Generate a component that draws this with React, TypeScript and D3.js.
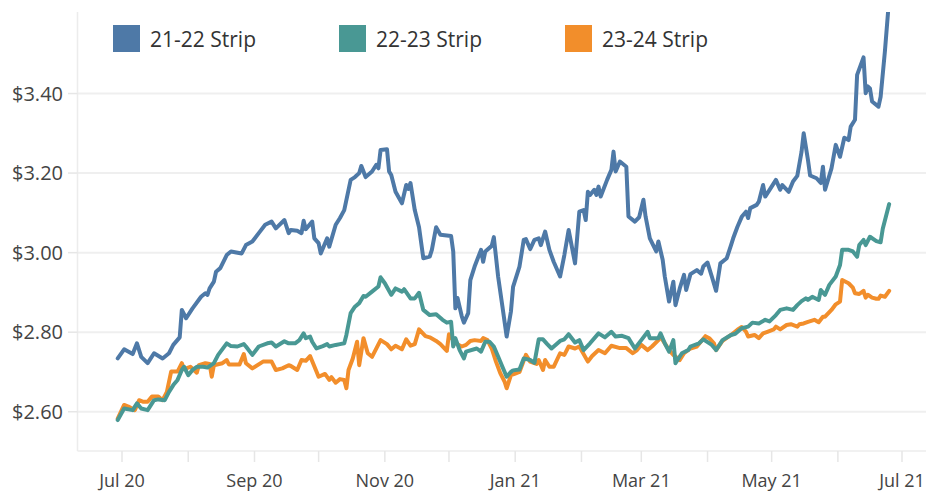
import React from "react";
import * as d3 from "d3";

const seriesNames = ["21-22 Strip", "22-23 Strip", "23-24 Strip"];
const seriesColors = ["#4e79a7", "#499894", "#f28e2b"];
const yTicks = [2.6, 2.8, 3.0, 3.2, 3.4];
const xTickLabels = ["2020-07-01", "2020-09-01", "2020-11-01", "2021-01-01", "2021-03-01", "2021-05-01", "2021-07-01"];

const strip2122: [string, number][] = [
["2020-06-29",2.734],["2020-07-02",2.757],["2020-07-06",2.745],["2020-07-08",2.772],["2020-07-10",2.738],["2020-07-13",2.722],["2020-07-16",2.747],["2020-07-20",2.734],["2020-07-23",2.747],["2020-07-25",2.768],["2020-07-28",2.787],["2020-07-29",2.856],["2020-07-31",2.835],["2020-08-03",2.860],["2020-08-07",2.889],["2020-08-09",2.898],["2020-08-10",2.894],["2020-08-11",2.910],["2020-08-13",2.927],["2020-08-14",2.952],["2020-08-16",2.961],["2020-08-19",2.994],["2020-08-21",3.003],["2020-08-26",2.998],["2020-08-28",3.019],["2020-08-31",3.028],["2020-09-03",3.049],["2020-09-06",3.070],["2020-09-09",3.078],["2020-09-11",3.061],["2020-09-15",3.082],["2020-09-17",3.049],["2020-09-18",3.057],["2020-09-21",3.055],["2020-09-23",3.049],["2020-09-24",3.080],["2020-09-25",3.059],["2020-09-28",3.078],["2020-09-29",3.036],["2020-10-01",3.024],["2020-10-02",2.998],["2020-10-05",3.036],["2020-10-06",3.015],["2020-10-09",3.070],["2020-10-11",3.087],["2020-10-13",3.107],["2020-10-16",3.183],["2020-10-18",3.190],["2020-10-20",3.200],["2020-10-21",3.218],["2020-10-23",3.190],["2020-10-26",3.204],["2020-10-28",3.221],["2020-10-29",3.212],["2020-10-30",3.258],["2020-11-02",3.260],["2020-11-03",3.204],["2020-11-04",3.195],["2020-11-06",3.153],["2020-11-09",3.124],["2020-11-11",3.170],["2020-11-12",3.160],["2020-11-13",3.175],["2020-11-15",3.107],["2020-11-17",3.064],["2020-11-19",2.986],["2020-11-22",2.990],["2020-11-23",3.007],["2020-11-25",3.064],["2020-11-27",3.045],["2020-12-02",3.042],["2020-12-03",3.003],["2020-12-04",2.860],["2020-12-05",2.886],["2020-12-07",2.840],["2020-12-08",2.824],["2020-12-10",2.848],["2020-12-11",2.931],["2020-12-13",2.965],["2020-12-16",3.007],["2020-12-17",2.977],["2020-12-18",3.003],["2020-12-21",3.017],["2020-12-22",3.039],["2020-12-24",2.940],["2020-12-26",2.865],["2020-12-28",2.789],["2020-12-30",2.852],["2020-12-31",2.914],["2021-01-03",2.965],["2021-01-05",3.032],["2021-01-06",3.034],["2021-01-08",3.009],["2021-01-10",3.032],["2021-01-12",3.036],["2021-01-13",3.019],["2021-01-15",3.053],["2021-01-17",3.007],["2021-01-19",2.977],["2021-01-22",2.940],["2021-01-24",2.994],["2021-01-26",3.057],["2021-01-29",2.973],["2021-01-31",3.103],["2021-02-02",3.107],["2021-02-03",3.082],["2021-02-04",3.153],["2021-02-05",3.145],["2021-02-07",3.158],["2021-02-08",3.145],["2021-02-09",3.166],["2021-02-10",3.141],["2021-02-13",3.183],["2021-02-15",3.208],["2021-02-16",3.254],["2021-02-17",3.204],["2021-02-19",3.229],["2021-02-22",3.216],["2021-02-23",3.091],["2021-02-26",3.078],["2021-02-28",3.089],["2021-03-02",3.133],["2021-03-03",3.091],["2021-03-05",3.036],["2021-03-08",3.003],["2021-03-09",3.028],["2021-03-11",2.982],["2021-03-12",2.940],["2021-03-14",2.877],["2021-03-16",2.927],["2021-03-17",2.868],["2021-03-19",2.910],["2021-03-21",2.944],["2021-03-22",2.906],["2021-03-24",2.946],["2021-03-27",2.956],["2021-03-29",2.947],["2021-03-30",2.965],["2021-04-01",2.975],["2021-04-03",2.940],["2021-04-05",2.904],["2021-04-07",2.973],["2021-04-10",2.986],["2021-04-12",3.019],["2021-04-13",3.036],["2021-04-15",3.065],["2021-04-17",3.090],["2021-04-19",3.103],["2021-04-20",3.087],["2021-04-21",3.112],["2021-04-24",3.120],["2021-04-25",3.128],["2021-04-27",3.170],["2021-04-28",3.141],["2021-05-01",3.166],["2021-05-03",3.183],["2021-05-05",3.158],["2021-05-06",3.170],["2021-05-09",3.153],["2021-05-11",3.179],["2021-05-13",3.193],["2021-05-15",3.254],["2021-05-16",3.300],["2021-05-18",3.233],["2021-05-19",3.194],["2021-05-22",3.187],["2021-05-24",3.175],["2021-05-25",3.216],["2021-05-26",3.158],["2021-05-29",3.212],["2021-05-31",3.271],["2021-06-02",3.241],["2021-06-04",3.289],["2021-06-06",3.283],["2021-06-07",3.317],["2021-06-09",3.334],["2021-06-10",3.447],["2021-06-13",3.491],["2021-06-14",3.401],["2021-06-15",3.418],["2021-06-16",3.413],["2021-06-17",3.380],["2021-06-20",3.367],["2021-06-21",3.392],["2021-06-23",3.506],["2021-06-25",3.640]
];

const strip2223: [string, number][] = [
["2020-06-29",2.579],["2020-07-02",2.608],["2020-07-06",2.604],["2020-07-08",2.621],["2020-07-10",2.608],["2020-07-13",2.604],["2020-07-16",2.629],["2020-07-18",2.631],["2020-07-21",2.629],["2020-07-23",2.650],["2020-07-25",2.667],["2020-07-27",2.680],["2020-07-29",2.705],["2020-07-30",2.713],["2020-08-01",2.692],["2020-08-03",2.705],["2020-08-05",2.713],["2020-08-08",2.713],["2020-08-10",2.711],["2020-08-13",2.722],["2020-08-15",2.743],["2020-08-19",2.772],["2020-08-21",2.765],["2020-08-24",2.764],["2020-08-27",2.770],["2020-08-28",2.764],["2020-08-31",2.743],["2020-09-03",2.764],["2020-09-07",2.772],["2020-09-09",2.774],["2020-09-11",2.764],["2020-09-15",2.777],["2020-09-17",2.772],["2020-09-20",2.772],["2020-09-22",2.780],["2020-09-24",2.797],["2020-09-25",2.785],["2020-09-27",2.789],["2020-09-28",2.776],["2020-09-30",2.759],["2020-10-03",2.765],["2020-10-05",2.770],["2020-10-06",2.764],["2020-10-09",2.768],["2020-10-11",2.770],["2020-10-13",2.772],["2020-10-14",2.793],["2020-10-16",2.848],["2020-10-18",2.864],["2020-10-20",2.873],["2020-10-22",2.891],["2020-10-23",2.889],["2020-10-26",2.902],["2020-10-29",2.915],["2020-10-30",2.938],["2020-11-01",2.923],["2020-11-04",2.894],["2020-11-06",2.910],["2020-11-09",2.902],["2020-11-10",2.908],["2020-11-13",2.885],["2020-11-15",2.885],["2020-11-17",2.899],["2020-11-19",2.856],["2020-11-22",2.843],["2020-11-25",2.845],["2020-11-28",2.831],["2020-11-30",2.824],["2020-12-02",2.826],["2020-12-03",2.764],["2020-12-04",2.785],["2020-12-06",2.755],["2020-12-08",2.734],["2020-12-09",2.751],["2020-12-14",2.759],["2020-12-16",2.751],["2020-12-18",2.776],["2020-12-20",2.776],["2020-12-22",2.764],["2020-12-24",2.739],["2020-12-26",2.713],["2020-12-28",2.688],["2020-12-30",2.700],["2020-12-31",2.704],["2021-01-03",2.706],["2021-01-05",2.734],["2021-01-08",2.730],["2021-01-10",2.723],["2021-01-12",2.782],["2021-01-14",2.782],["2021-01-16",2.770],["2021-01-18",2.759],["2021-01-22",2.778],["2021-01-24",2.782],["2021-01-26",2.795],["2021-01-29",2.774],["2021-01-31",2.780],["2021-02-02",2.755],["2021-02-05",2.772],["2021-02-09",2.797],["2021-02-12",2.787],["2021-02-15",2.801],["2021-02-17",2.789],["2021-02-20",2.791],["2021-02-23",2.785],["2021-02-26",2.759],["2021-03-01",2.780],["2021-03-04",2.801],["2021-03-05",2.785],["2021-03-09",2.785],["2021-03-10",2.797],["2021-03-12",2.772],["2021-03-14",2.751],["2021-03-16",2.780],["2021-03-17",2.722],["2021-03-20",2.747],["2021-03-23",2.755],["2021-03-24",2.764],["2021-03-28",2.772],["2021-03-30",2.782],["2021-04-03",2.768],["2021-04-05",2.755],["2021-04-08",2.780],["2021-04-12",2.793],["2021-04-14",2.796],["2021-04-17",2.810],["2021-04-20",2.814],["2021-04-22",2.824],["2021-04-25",2.822],["2021-04-28",2.831],["2021-04-30",2.827],["2021-05-03",2.843],["2021-05-05",2.856],["2021-05-08",2.860],["2021-05-11",2.856],["2021-05-13",2.868],["2021-05-15",2.878],["2021-05-17",2.885],["2021-05-18",2.881],["2021-05-20",2.889],["2021-05-23",2.881],["2021-05-24",2.906],["2021-05-26",2.894],["2021-05-28",2.919],["2021-05-31",2.940],["2021-06-02",2.969],["2021-06-03",3.007],["2021-06-06",3.007],["2021-06-08",3.003],["2021-06-10",2.990],["2021-06-11",3.019],["2021-06-13",3.032],["2021-06-14",3.019],["2021-06-16",3.040],["2021-06-19",3.029],["2021-06-21",3.026],["2021-06-22",3.060],["2021-06-25",3.122]
];

const strip2324: [string, number][] = [
["2020-06-29",2.583],["2020-07-02",2.617],["2020-07-04",2.613],["2020-07-07",2.604],["2020-07-09",2.629],["2020-07-11",2.625],["2020-07-13",2.625],["2020-07-15",2.638],["2020-07-18",2.638],["2020-07-20",2.629],["2020-07-22",2.650],["2020-07-24",2.701],["2020-07-27",2.701],["2020-07-29",2.722],["2020-07-30",2.707],["2020-08-02",2.713],["2020-08-05",2.698],["2020-08-06",2.717],["2020-08-09",2.722],["2020-08-11",2.720],["2020-08-12",2.688],["2020-08-13",2.717],["2020-08-17",2.722],["2020-08-19",2.730],["2020-08-20",2.719],["2020-08-25",2.719],["2020-08-27",2.745],["2020-08-28",2.722],["2020-08-31",2.709],["2020-09-05",2.726],["2020-09-09",2.726],["2020-09-11",2.705],["2020-09-14",2.709],["2020-09-17",2.717],["2020-09-18",2.715],["2020-09-21",2.705],["2020-09-23",2.730],["2020-09-25",2.728],["2020-09-27",2.740],["2020-09-30",2.701],["2020-10-01",2.688],["2020-10-04",2.695],["2020-10-06",2.680],["2020-10-07",2.687],["2020-10-09",2.673],["2020-10-11",2.682],["2020-10-13",2.680],["2020-10-14",2.659],["2020-10-15",2.705],["2020-10-17",2.734],["2020-10-19",2.776],["2020-10-20",2.717],["2020-10-22",2.785],["2020-10-24",2.747],["2020-10-26",2.738],["2020-10-30",2.780],["2020-11-02",2.770],["2020-11-04",2.757],["2020-11-06",2.766],["2020-11-09",2.757],["2020-11-11",2.782],["2020-11-13",2.766],["2020-11-15",2.770],["2020-11-17",2.807],["2020-11-20",2.790],["2020-11-22",2.787],["2020-11-25",2.778],["2020-11-27",2.770],["2020-11-30",2.753],["2020-12-01",2.795],["2020-12-04",2.772],["2020-12-07",2.764],["2020-12-09",2.768],["2020-12-11",2.778],["2020-12-13",2.780],["2020-12-16",2.778],["2020-12-17",2.785],["2020-12-19",2.780],["2020-12-21",2.759],["2020-12-23",2.726],["2020-12-25",2.697],["2020-12-27",2.676],["2020-12-28",2.659],["2020-12-30",2.692],["2021-01-01",2.696],["2021-01-03",2.700],["2021-01-06",2.743],["2021-01-08",2.726],["2021-01-11",2.720],["2021-01-12",2.730],["2021-01-14",2.705],["2021-01-15",2.730],["2021-01-17",2.713],["2021-01-19",2.713],["2021-01-22",2.747],["2021-01-24",2.743],["2021-01-26",2.764],["2021-01-29",2.759],["2021-01-31",2.764],["2021-02-04",2.726],["2021-02-06",2.740],["2021-02-09",2.755],["2021-02-12",2.747],["2021-02-15",2.766],["2021-02-19",2.760],["2021-02-22",2.760],["2021-02-25",2.747],["2021-02-27",2.755],["2021-03-01",2.768],["2021-03-04",2.755],["2021-03-06",2.764],["2021-03-09",2.780],["2021-03-10",2.789],["2021-03-12",2.772],["2021-03-14",2.755],["2021-03-16",2.743],["2021-03-19",2.730],["2021-03-21",2.747],["2021-03-24",2.759],["2021-03-27",2.764],["2021-03-31",2.790],["2021-04-02",2.784],["2021-04-04",2.772],["2021-04-05",2.755],["2021-04-08",2.778],["2021-04-12",2.793],["2021-04-15",2.806],["2021-04-17",2.813],["2021-04-19",2.801],["2021-04-20",2.789],["2021-04-23",2.793],["2021-04-25",2.785],["2021-04-27",2.797],["2021-04-29",2.801],["2021-05-02",2.807],["2021-05-03",2.814],["2021-05-05",2.807],["2021-05-08",2.818],["2021-05-10",2.820],["2021-05-13",2.814],["2021-05-14",2.820],["2021-05-16",2.822],["2021-05-18",2.826],["2021-05-21",2.831],["2021-05-23",2.825],["2021-05-25",2.839],["2021-05-26",2.839],["2021-05-29",2.856],["2021-05-31",2.870],["2021-06-02",2.877],["2021-06-03",2.931],["2021-06-06",2.923],["2021-06-08",2.912],["2021-06-09",2.898],["2021-06-11",2.896],["2021-06-13",2.904],["2021-06-14",2.887],["2021-06-15",2.894],["2021-06-17",2.887],["2021-06-19",2.884],["2021-06-20",2.884],["2021-06-21",2.892],["2021-06-23",2.889],["2021-06-25",2.904]
];

const parse = d3.timeParse("%Y-%m-%d");
const W = 926;
const H = 492;
const FONT = "'Open Sans', 'DejaVu Sans', sans-serif";

export default function App() {
  const x = d3.scaleTime().domain([parse("2020-07-01")!, parse("2021-07-01")!]).range([122, 902]);
  const y = d3.scaleLinear().domain([2.5, 3.6]).range([451.5, 14]);
  const line = d3
    .line<[string, number]>()
    .x((d) => x(parse(d[0])!))
    .y((d) => y(d[1]))
    .curve(d3.curveLinear);
  const allSeries = [strip2122, strip2223, strip2324];
  const drawOrder = [2, 1, 0];
  const monthTicks = d3.timeMonth.range(parse("2020-07-01")!, parse("2021-07-02")!);
  const fmt = d3.format(".2f");
  const legendX = [113, 339, 565];
  const plotLeft = 77.5;
  const plotTop = 12;
  const plotBottom = 451;

  return (
    <svg width={W} height={H} style={{ position: "absolute", left: 0, top: 0, background: "#fff" }} fontFamily={FONT}>
      <defs>
        <clipPath id="plotclip">
          <rect x={plotLeft} y={plotTop} width={W - plotLeft} height={plotBottom - plotTop} />
        </clipPath>
      </defs>
      {yTicks.map((t) => (
        <line key={"g" + t} x1={plotLeft} x2={W} y1={y(t)} y2={y(t)} stroke="#efefef" strokeWidth={2} />
      ))}
      <line x1={plotLeft} x2={plotLeft} y1={plotTop} y2={plotBottom} stroke="#ececec" strokeWidth={1.5} />
      <line x1={plotLeft} x2={W} y1={plotBottom} y2={plotBottom} stroke="#ececec" strokeWidth={1.5} />
      {yTicks.map((t) => (
        <g key={"y" + t}>
          <line x1={68} x2={plotLeft} y1={y(t)} y2={y(t)} stroke="#e6e6e6" strokeWidth={1.5} />
          <text x={63} y={y(t) + 7} textAnchor="end" fontSize={20} fill="#444">
            {"$" + fmt(t)}
          </text>
        </g>
      ))}
      {monthTicks.map((m, i) => (
        <line key={"t" + i} x1={x(m)} x2={x(m)} y1={plotBottom} y2={plotBottom + 11} stroke="#e6e6e6" strokeWidth={1.5} />
      ))}
      {xTickLabels.map((s) => (
        <text key={"x" + s} x={x(parse(s)!)} y={487} textAnchor="middle" fontSize={18} fill="#444">
          {d3.timeFormat("%b %y")(parse(s)!)}
        </text>
      ))}
      <g clipPath="url(#plotclip)">
        {drawOrder.map((i) => (
          <path
            key={"s" + i}
            d={line(allSeries[i]) || ""}
            fill="none"
            stroke={seriesColors[i]}
            strokeWidth={4}
            strokeLinejoin="round"
            strokeLinecap="round"
          />
        ))}
      </g>
      {seriesNames.map((n, i) => (
        <g key={"l" + n}>
          <rect x={legendX[i]} y={25} width={27} height={27} fill={seriesColors[i]} />
          <text x={legendX[i] + 37} y={47} fontSize={21} fill="#333">
            {n}
          </text>
        </g>
      ))}
    </svg>
  );
}
